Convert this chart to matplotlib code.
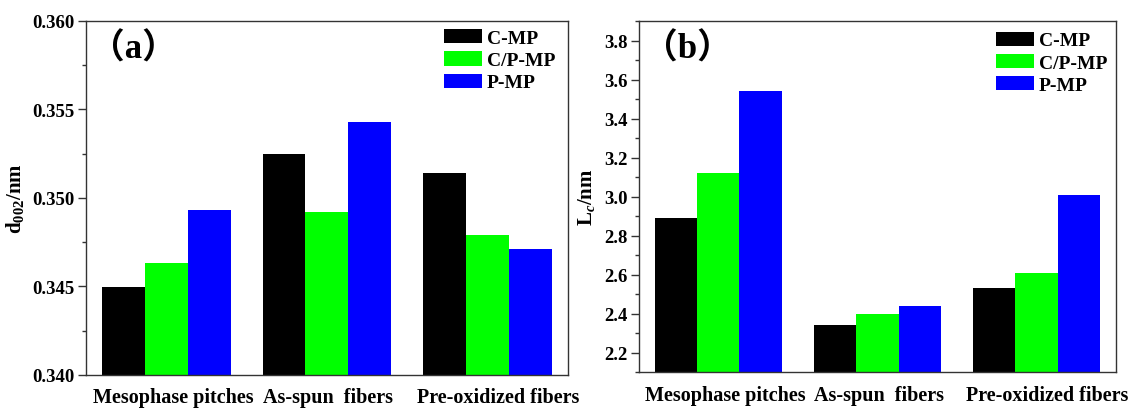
import matplotlib
matplotlib.use("Agg")
import matplotlib.pyplot as plt
import numpy as np
from matplotlib.ticker import MultipleLocator, FormatStrFormatter

# ---- data ----
categories = ["Mesophase pitches", "As-spun  fibers", "Pre-oxidized fibers"]
series_names = ["C-MP", "C/P-MP", "P-MP"]
d002_cmp = [0.3450, 0.3525, 0.3514]
d002_cpmp = [0.3463, 0.3492, 0.3479]
d002_pmp = [0.3493, 0.3543, 0.3471]
lc_cmp = [2.89, 2.34, 2.53]
lc_cpmp = [3.12, 2.40, 2.61]
lc_pmp = [3.54, 2.44, 3.01]
colors = ["#000000", "#00FF00", "#0000FF"]

# ---- style ----
plt.rcParams["font.family"] = ["Liberation Serif", "Noto Sans CJK SC"]
plt.rcParams["font.weight"] = "bold"
plt.rcParams["mathtext.fontset"] = "custom"
plt.rcParams["mathtext.rm"] = "Liberation Serif:bold"
plt.rcParams["mathtext.bf"] = "Liberation Serif:bold"
plt.rcParams["mathtext.it"] = "Liberation Serif:italic:bold"
spine_col = "#333333"

fig = plt.figure(figsize=(11.34, 4.10), dpi=100)
W, H = 1134, 410
ax_a = fig.add_axes([86 / W, 1 - 376 / H, 481.7 / W, 354 / H])
ax_b = fig.add_axes([638.7 / W, 1 - 373.3 / H, 477.3 / W, 351.3 / H])

label_offsets = [0.045, 0.01, 0.065]
bar_w = 0.8 / 3


def draw(ax, series, ylim, major, minor, fmt, ylabel, tag, leg_anchor):
    x = np.arange(len(categories))
    for i, (vals, name) in enumerate(zip(series, series_names)):
        ax.bar(x + (i - 1) * bar_w, vals, width=bar_w, color=colors[i],
               label=name, linewidth=0)
    ax.set_xlim(-0.5, 2.5)
    ax.set_ylim(*ylim)
    ax.yaxis.set_major_locator(MultipleLocator(major))
    ax.yaxis.set_minor_locator(MultipleLocator(minor))
    ax.yaxis.set_major_formatter(FormatStrFormatter(fmt))
    ax.set_xticks(x + np.array(label_offsets))
    ax.set_xticklabels(categories, fontsize=14.5, fontweight="bold")
    ax.tick_params(axis="x", length=0, pad=9)
    ax.tick_params(axis="y", which="major", direction="out", length=6,
                   width=1, color=spine_col, labelsize=13.5, pad=2)
    ax.tick_params(axis="y", which="minor", direction="out", length=3,
                   width=1, color=spine_col)
    for lab in ax.get_yticklabels():
        lab.set_fontweight("bold")
    for s in ax.spines.values():
        s.set_color(spine_col)
        s.set_linewidth(1.0)
    ax.set_ylabel(ylabel, fontsize=15, fontweight="bold", labelpad=5)
    ax.text(0.008, 0.922, tag, transform=ax.transAxes, fontsize=25,
            fontweight="bold", ha="left", va="center")
    ax.legend(loc="upper left", bbox_to_anchor=leg_anchor, frameon=False,
              handlelength=1.96, handleheight=0.75,
              handletextpad=0.25, labelspacing=0.22, borderpad=0,
              borderaxespad=0, prop={"weight": "bold", "size": 14})


draw(ax_a, [d002_cmp, d002_cpmp, d002_pmp], (0.340, 0.360), 0.005, 0.0025,
     "%.3f", r"d$_{\mathrm{002}}$/nm", "（a）", (0.743, 0.977))
draw(ax_b, [lc_cmp, lc_cpmp, lc_pmp], (2.1, 3.9), 0.2, 0.1,
     "%.1f", r"L$_{\mathit{c}}$/nm", "（b）", (0.7486, 0.970))

fig.savefig("out.png", dpi=100)
